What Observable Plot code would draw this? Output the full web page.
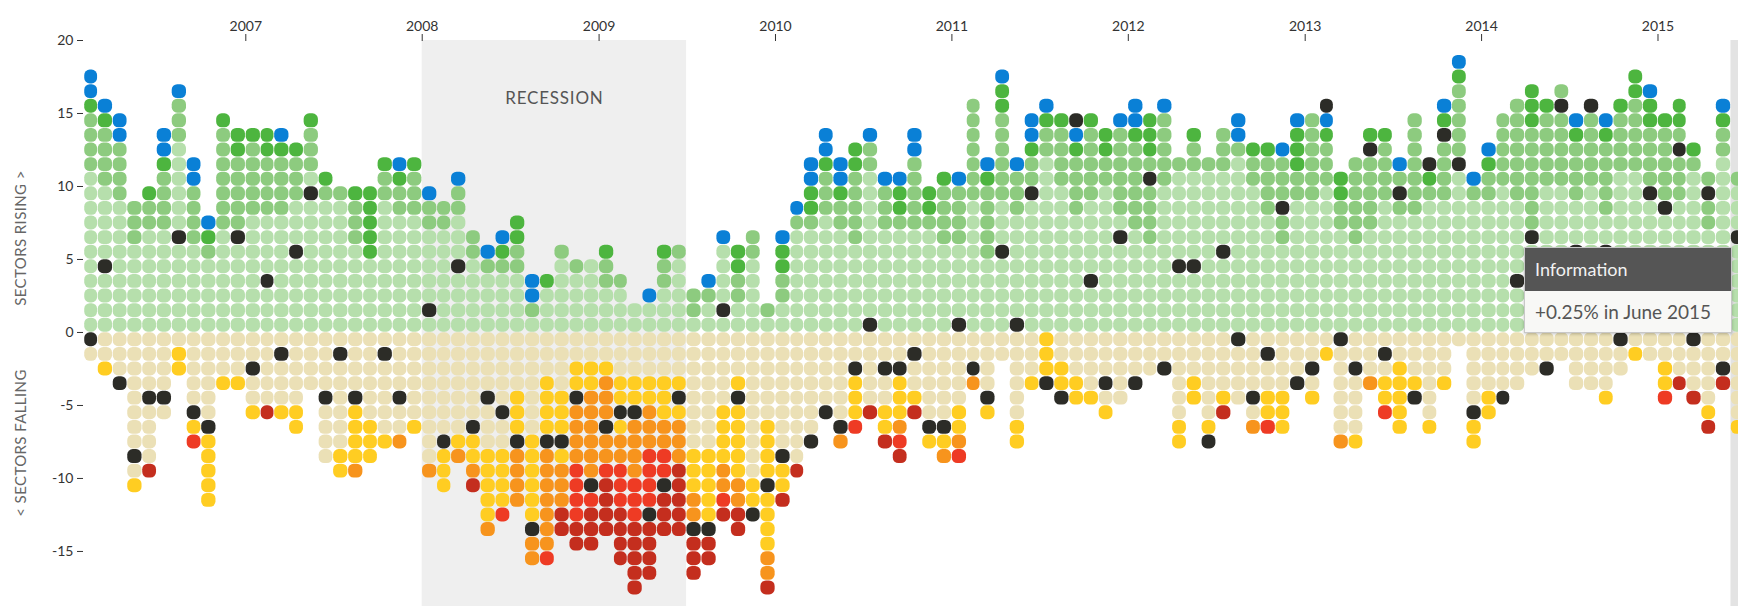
<!DOCTYPE html>
<html>
<head>
<meta charset="utf-8">
<script src="https://cdn.jsdelivr.net/npm/d3@7"></script>
<script src="https://cdn.jsdelivr.net/npm/@observablehq/plot@0.6"></script>
<style>
  html, body { margin: 0; padding: 0; background: #fff; }
  #wrap { position: relative; width: 1738px; height: 606px; overflow: hidden; font-family: Lato, "Open Sans", sans-serif; }
  #wrap svg { display: block; overflow: hidden; }
  #tip { position: absolute; left: 1524px; top: 247px; width: 206px; border: 1px solid #c8c8c8; box-shadow: 0 1px 3px rgba(0,0,0,0.25); background: #f8f8f6; }
  #tip .head { background: #555; color: #f2f2f2; font-size: 18px; height: 43px; line-height: 43px; padding-left: 10px; }
  #tip .body { color: #555; font-size: 19px; height: 41px; line-height: 41px; padding-left: 10px; white-space: nowrap; }
</style>
</head>
<body>
<div id="wrap"></div>
<script>
// ---------- data ----------
const months = [
  "2006-02","2006-03","2006-04","2006-05","2006-06","2006-07","2006-08","2006-09","2006-10","2006-11","2006-12",
  "2007-01","2007-02","2007-03","2007-04","2007-05","2007-06","2007-07","2007-08","2007-09","2007-10","2007-11","2007-12",
  "2008-01","2008-02","2008-03","2008-04","2008-05","2008-06","2008-07","2008-08","2008-09","2008-10","2008-11","2008-12",
  "2009-01","2009-02","2009-03","2009-04","2009-05","2009-06","2009-07","2009-08","2009-09","2009-10","2009-11","2009-12",
  "2010-01","2010-02","2010-03","2010-04","2010-05","2010-06","2010-07","2010-08","2010-09","2010-10","2010-11","2010-12",
  "2011-01","2011-02","2011-03","2011-04","2011-05","2011-06","2011-07","2011-08","2011-09","2011-10","2011-11","2011-12",
  "2012-01","2012-02","2012-03","2012-04","2012-05","2012-06","2012-07","2012-08","2012-09","2012-10","2012-11","2012-12",
  "2013-01","2013-02","2013-03","2013-04","2013-05","2013-06","2013-07","2013-08","2013-09","2013-10","2013-11","2013-12",
  "2014-01","2014-02","2014-03","2014-04","2014-05","2014-06","2014-07","2014-08","2014-09","2014-10","2014-11","2014-12",
  "2015-01","2015-02","2015-03","2015-04","2015-05","2015-06"
];

// Sectors rising, from the zero line upward. L light green, M mid green, G green, B blue, K Information
const rising = [
  "LLLLLLLLLLLMMMMGBB","LLLLKLLLLLMMMMGB","LLLLLLLLLMMMMBB","LLLLLLMMM","LLLLLLLMMG","LLLLLLLMMMMGBB",
  "LLLLLLKLLLLLLMMMB","LLLLLLMMMMBB","LLLLLMGB","LLLLLLLMMMMMMMG","LLLLLLKMMMMMGG",
  "LLLLLLLLMMMMMG","LLLKLLLLMMMMGG","LLLLLLLLMMMMGB","LLLLLKLLLMMMG","LLLLLLLLLKLMMMG","LLLLLLLLLMG",
  "LLLLLLLLLM","LLLLLLMMMG","LLLLLGGGGG","LLLLLLLLLMMG","LLLLLLLLMMGB","LLLLLLLLMMMG",
  "LKLLLLLMMB","LLLLLLLMM","LLLLKLLLMMB","LLLLLMM","LLLLMB","LLLLMGB","LLLLMMGG","LMBB","LLLG",
  "LLLLLM","LLLLM","LLLLL",
  "LLLMMG","LLLM","LL","LLB","LLLMMG","LLLLLM","LMM","LLMB","LKLLLLB","LLMMGG","LLLLLMM","LM",
  "LLMMGGB","LLLLLLLMB","LLLLLLLMGGBB","LLLLLLLLMMMGBB","LLLLLLLMMGBB","LLLLLLMMMMMGG",
  "KLLLLLLLLLLMMB","LLLLLLLMMMB","LLLLLLLMGGB","LLLLLLLMMMMMBB","LLLLLLLMGG","LLLLLLMMMMG",
  "KLLLLLMMMMB","LLLLLLLLLMMMMMMM","LLLLLMMMMMGB","LLLLLKLLLMMMMMMGGB","KLLLLLLLMMMB","LLLLLLLLLKMMGBB",
  "LLLLLLLLLLLLMMGB","LLLLLLLLLLMMMMG","LLLLLLLLMMMMGBK","LLLKLLLLLMMMMMG","LLLLLLLLLLMMGG","LLLLLLKLMMMMMMB",
  "LLLLLLLMMMMMMGBB","LLLLLLMMMMKMGGG","LLLLLLLLLLMMMMMB","LLLLKLLLLLLM","LLLLKLLLLLLMMG","LLLLLLLLLLLM",
  "LLLLLKLLLLLMMM","LLLLLLLLLLLLMBB","LLLLLLLLLLMMG","LLLLLLLLMMMMG","LLLLLLMMKMMMB","LLLLLLLLLMMGGGB",
  "LLLLLLLLLMMMMMM","LLLLLLLLLLMMMGBK","LLLLLLLMMGG","LLLLLLMMMMMM","LLLLLLLMMMMMKG","LLLLLLLLLMMMMG",
  "LLLLLLLLMKMB","LLLLLLLLMMMMMMM","LLLLLLLLLMGK","LLLLLLLLLMMMMKGB","LLLLLLLLLLLKMMMMMGB","LLLLLLLLLMB",
  "LLLLLLLLLMMGB","LLLLLLLLLLMMMMM","LLLKLLLLLMMMMMMM","LLLLLLKMMMMMMMGGG","LLLLLLLLLLMMMMMG","LLLLLLLLLLMMMMMKM",
  "LLLLLKLLLMMMMGB","LLLLLLLLLLMMMMMK","LLLLLKLLMMMMMGB","LLLLLLLLLLLMMMMG","LLLLLLLLLLLMMMMMGG","LLLLLLLLLKMMMMGGB",
  "LLLLLLLLKMMMMMG","LLLLLLLLLMMMKMGG","LLLLLLLLLLLMG","LLLLLLLMMKM","LLLLLLLLLLLLMMGB","LLLLLLKLLLM"
];

// Sectors falling, from the zero line downward. E beige, Y yellow, O orange, R red, D dark red, K Information
const falling = [
  "KE","EEY","EEEK","EEEEEEEEKEY","EEEEKEEEED","EEEEKE","EYY","EEEEEKYR","EEEEEEKYYYYY","EEEY","EEEY",
  "EEKEEY","EEEEED","EKEEEY","EEEEEYY","EEEE","EEEEKEEEE","EKEEEEEEYY","EEEEKYYYYO","EEEEEEYYY","EKEEEEEY","EEEEKEEO","EEEEEEY",
  "EEEEEEEEEO","EEEEEEEKYYY","EEEEEEEYO","EEEEEEKYYOD","EEEEKEEEYYYYYO","EEEEEKEEYYYYR","EEEEYYYKOOOO",
  "EEEEEEEYYYYYYKOO","EEEYYYYKOOOOOOOR","EEEEYYYKYOOODD","EEYYKOOOORRRRDD","EEYYOOOOOOKRDDD",
  "EEYOOOKOORDDDD","EEEYYKYOORRRDDDD","EEEYYKOOOORRRDDDDD","EEEYYOOORRRRKDDDD","EEEYYYOORRKDDD","EEEYKYOOODDDDD",
  "EEEEEEEEYYYOOKDDD","EEEEEEEEYYYYYKDD","EEEEEYYYYOORD","EEEYKYYYYYOODD","EEEEEEEEEEYYK","EEEEEEYYYYKYYYYOOD",
  "EEEEEEEEKYYD","EEEEEEEEED","EEEEEEEK","EEEEEK","EEEEEEKO","EEKYYYR","EEEEED","EEKEEYYD","EEKYYYORD","EKEEYD","EEEEEEKY","EEEEEEKYO",
  "EEEEEYYOR","EEKO","EEEEKY","EE","EEEEEEYY","EEEY","YYYK","EEYYK","EEEYY","EEEEY","EEEKEY","EEEEE",
  "EEEK","EEE","EEK","EEEEEEYY","EEEYY","EEEEEEYK","EEEEYD","KEEEE","EEEEKEO","EKEEYYR","EEEEYYY","EEEK",
  "EEKEY","EY","KEEEEEEO","EEKEEEEY","EEEO","EKEYYR","EEYYYYY","EEEYK","EEEEEEY","EEEY","E","EEEEEKYY",
  "EEEEYY","EEEEK","EEEE","EEE","EEK","EE","EEEE","EEEE","EEEEY","KEE","EY","EE",
  "EEYYR","EEED","KEEED","EEEEEYD","EEKD","EEEEEEY"
];

const yearTicks = ["2007","2008","2009","2010","2011","2012","2013","2014","2015"];
const yTicks = [-15, -10, -5, 0, 5, 10, 15, 20];
const recession = [{start: "2008-01", end: "2009-07", label: "RECESSION"}];
const highlight = {sector: "Information", change: "+0.25%", month: "2015-06", label: "June 2015"};

const codes = ["L", "M", "G", "B", "K", "E", "Y", "O", "R", "D"];
const codeColors = ["#b6dfac", "#8dcb7f", "#4db53f", "#0a80d6", "#2c2c27", "#ebe0b6", "#ffcd22", "#f7941d", "#ee3b24", "#c42e1e"];

// ---------- build ----------
const parseM = d3.utcParse("%Y-%m");
const cells = [];
months.forEach((m, i) => {
  const x1 = parseM(m), x2 = d3.utcMonth.offset(x1, 1);
  [...rising[i]].forEach((c, k) => cells.push({x1, x2, y1: k, y2: k + 1, code: c}));
  [...falling[i]].forEach((c, k) => cells.push({x1, x2, y1: -k, y2: -k - 1, code: c}));
});
const rec = recession.map(d => ({...d, x1: parseM(d.start), x2: parseM(d.end), mid: new Date((+parseM(d.start) + +parseM(d.end)) / 2)}));
const hl = [{x1: parseM(highlight.month), x2: d3.utcMonth.offset(parseM(highlight.month), 1)}];
const yearDates = yearTicks.map(y => d3.utcParse("%Y")(y));

const chart = Plot.plot({
  width: 1738,
  height: 606,
  marginTop: 40,
  marginBottom: 0,
  marginLeft: 83,
  marginRight: 0,
  style: {fontFamily: "Lato, 'Open Sans', sans-serif", background: "#fff", overflow: "hidden"},
  x: {type: "utc", domain: [new Date(Date.UTC(2006, 0, 1)), new Date(Date.UTC(2016, 0, 1))], range: [68.9, 1833.9]},
  y: {domain: [-18.77, 20]},
  color: {type: "ordinal", domain: codes, range: codeColors},
  marks: [
    Plot.rect(rec, {x1: "x1", x2: "x2", fill: "#efefef"}),
    Plot.rect(hl, {x1: "x1", x2: "x2", fill: "#e3e3e3"}),
    Plot.text(rec, {x: "mid", text: "label", frameAnchor: "top", dy: 51, fontSize: 17, fill: "#555"}),
    Plot.rect(cells, {x1: "x1", x2: "x2", y1: "y1", y2: "y2", fill: "code", inset: 0.35, rx: 5.5}),
    Plot.axisX(yearDates, {anchor: "top", tickFormat: d3.utcFormat("%Y"), tickSize: 7, tickPadding: 3, fontSize: 14, color: "#333", label: null}),
    Plot.axisY(yTicks, {anchor: "left", tickFormat: d => String(d), tickSize: 6, tickPadding: 4, fontSize: 14, color: "#333", label: null})
  ]
});

const wrap = document.getElementById("wrap");
wrap.appendChild(chart);

const svg = d3.select(chart);
svg.selectAll("text").filter(function() { return this.textContent === "RECESSION"; }).style("letter-spacing", "0.8px");
svg.append("text").attr("transform", "translate(20,238) rotate(-90)").attr("text-anchor", "middle")
  .attr("dominant-baseline", "central").attr("fill", "#666").attr("font-size", 15).style("letter-spacing", "0.4px")
  .text("SECTORS RISING >");
svg.append("text").attr("transform", "translate(20,443) rotate(-90)").attr("text-anchor", "middle")
  .attr("dominant-baseline", "central").attr("fill", "#666").attr("font-size", 15).style("letter-spacing", "0.4px")
  .text("< SECTORS FALLING");

// tooltip
const tip = document.createElement("div");
tip.id = "tip";
tip.innerHTML = `<div class="head">${highlight.sector}</div><div class="body">${highlight.change} in ${highlight.label}</div>`;
wrap.appendChild(tip);
</script>
</body>
</html>
